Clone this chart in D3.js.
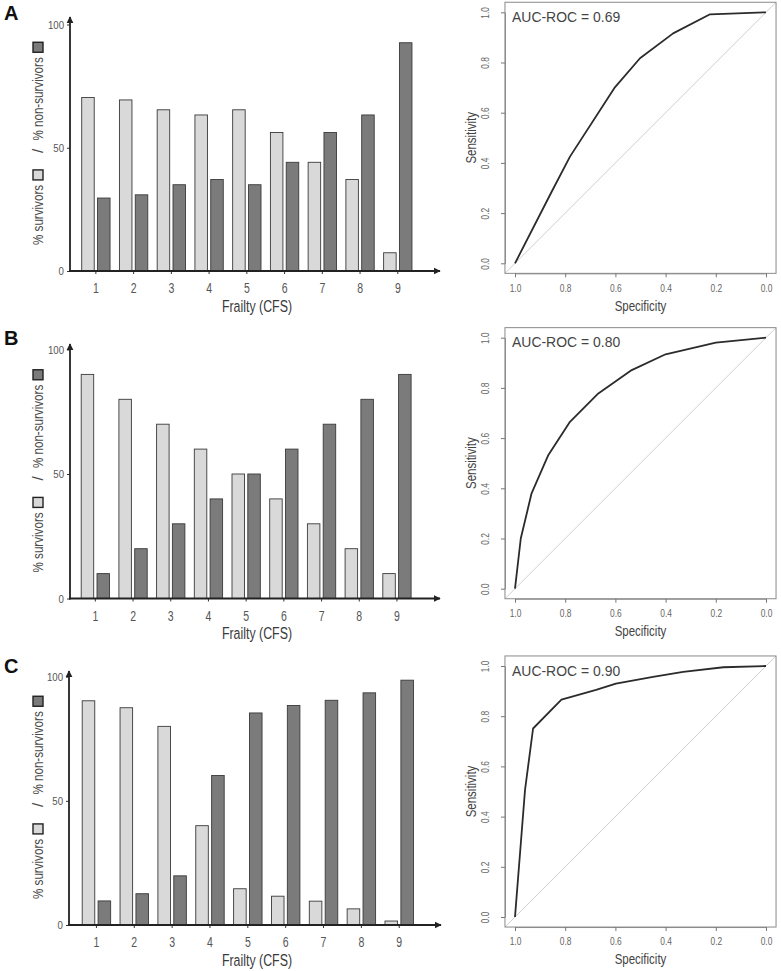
<!DOCTYPE html>
<html><head><meta charset="utf-8">
<script src="https://cdn.jsdelivr.net/npm/d3@7"></script>
<style>body{margin:0;background:#fff} svg{display:block}</style>
</head><body><svg id="chart" width="781" height="971"></svg>
<script>
// ---------- data ----------
const categories = [1, 2, 3, 4, 5, 6, 7, 8, 9];
const survivorsA    = [70.4, 69.4, 65.4, 63.3, 65.4, 56.2, 44.1, 37.1, 7.4];
const nonSurvivorsA = [29.6, 30.9, 35.0, 37.1, 35.0, 44.1, 56.2, 63.3, 92.6];
const survivorsB    = [90, 80, 70, 60, 50, 40, 30, 20, 10];
const nonSurvivorsB = [10, 20, 30, 40, 50, 60, 70, 80, 90];
const survivorsC    = [90.3, 87.5, 80.0, 40.0, 14.6, 11.6, 9.6, 6.5, 1.6];
const nonSurvivorsC = [9.7, 12.6, 19.8, 60.2, 85.4, 88.4, 90.5, 93.5, 98.6];

const rocSpecA = [1.0, 0.854, 0.781, 0.602, 0.502, 0.370, 0.223, 0.0];
const rocSensA = [0.0, 0.285, 0.425, 0.701, 0.817, 0.916, 0.992, 1.0];
const rocSpecB = [1.0, 0.977, 0.934, 0.867, 0.781, 0.668, 0.535, 0.400, 0.200, 0.0];
const rocSensB = [0.0, 0.200, 0.380, 0.533, 0.665, 0.778, 0.871, 0.934, 0.980, 1.0];
const rocSpecC = [1.0, 0.960, 0.928, 0.815, 0.677, 0.598, 0.450, 0.330, 0.170, 0.0];
const rocSensC = [0.0, 0.507, 0.751, 0.866, 0.905, 0.930, 0.957, 0.977, 0.995, 1.0];

const aucLabels = ["AUC-ROC = 0.69", "AUC-ROC = 0.80", "AUC-ROC = 0.90"];
const panelLetters = ["A", "B", "C"];
const barYTicks = [0, 50, 100];
const rocTicks = [0, 0.2, 0.4, 0.6, 0.8, 1.0];
const seriesKeys = ["survivors", "nonSurvivors"];

// ---------- style ----------
const SANS = "'Liberation Sans',Arial,sans-serif";
const LIGHT = "#d9d9d9", DARK = "#7b7b7b", EDGE = "#3a3a3a";
const TXT = "#4a4a4a";

// condense text horizontally (the original figure's text is tall and narrow)
function narrow(sel, f) {
  sel.each(function () {
    const L = this.getComputedTextLength();
    d3.select(this).attr("textLength", L * f).attr("lengthAdjust", "spacingAndGlyphs");
  });
  return sel;
}

const svg = d3.select("#chart");
svg.append("defs").call(defs => {
  defs.append("marker").attr("id", "arrow").attr("viewBox", "0 0 10 10")
    .attr("refX", 9).attr("refY", 5).attr("markerWidth", 4).attr("markerHeight", 4)
    .attr("orient", "auto").attr("markerUnits", "strokeWidth")
    .append("path").attr("d", "M0,0 L10,5 L0,10 Z").attr("fill", "#222");
});

// ---------- bar panel ----------
function drawBars(p) {
  const g = svg.append("g");
  const x = d3.scaleBand().domain(categories).range([p.xStart, p.xStart + 9 * p.step]);
  const xs = d3.scaleBand().domain(seriesKeys).range([4.7, p.step - 4.7]).paddingInner(0.209);
  const y = d3.scaleLinear().domain([0, 100]).range([p.y0, p.y100]);
  const rows = categories.map((c, i) => ({ c, survivors: p.surv[i], nonSurvivors: p.non[i] }));

  g.selectAll("g.cat").data(rows).join("g").attr("class", "cat")
    .attr("transform", d => `translate(${x(d.c)},0)`)
    .selectAll("rect").data(d => seriesKeys.map(k => ({ k, v: d[k] }))).join("rect")
    .attr("x", d => xs(d.k)).attr("width", xs.bandwidth())
    .attr("y", d => y(d.v)).attr("height", d => y(0) - y(d.v))
    .attr("fill", d => d.k === "survivors" ? LIGHT : DARK)
    .attr("stroke", EDGE).attr("stroke-width", 0.9);

  // y axis
  const ya = g.append("g").attr("transform", `translate(${p.axisX},0)`)
    .call(d3.axisLeft(y).tickValues(barYTicks).tickSize(3).tickPadding(3));
  ya.select(".domain").remove();
  ya.selectAll("line").attr("stroke", "#333");
  narrow(ya.selectAll("text").attr("font-family", SANS).attr("font-size", 11.5).attr("fill", "#555"), 0.84);
  g.append("line").attr("x1", p.axisX).attr("x2", p.axisX).attr("y1", p.y0 + 1).attr("y2", p.arrowTop)
    .attr("stroke", "#222").attr("stroke-width", 1.8).attr("marker-end", "url(#arrow)");

  // x axis
  const xa = g.append("g").attr("transform", `translate(0,${p.y0})`)
    .call(d3.axisBottom(x).tickSize(3).tickPadding(8.6));
  xa.select(".domain").remove();
  xa.selectAll("line").attr("stroke", "#333");
  narrow(xa.selectAll("text").attr("font-family", SANS).attr("font-size", 15).attr("fill", "#555"), 0.7);
  g.append("line").attr("x1", p.axisX - 1).attr("x2", p.xEnd).attr("y1", p.y0).attr("y2", p.y0)
    .attr("stroke", "#222").attr("stroke-width", 1.8).attr("marker-end", "url(#arrow)");

  narrow(g.append("text").attr("x", 257).attr("y", p.y0 + 35).attr("dy", "0.35em")
    .attr("text-anchor", "middle").attr("font-family", SANS).attr("font-size", 16.3)
    .attr("fill", "#3a3a3a").text("Frailty (CFS)"), 0.76);

  // y label with legend squares
  const lg = g.append("g").attr("transform", `translate(38,${p.y0}) rotate(-90)`);
  let pos = 26;
  const t1 = narrow(lg.append("text").attr("x", pos).attr("dy", "0.35em").attr("font-family", SANS)
    .attr("font-size", 15.5).attr("fill", TXT).text("% survivors"), 0.75);
  pos += +t1.attr("textLength") + 5;
  lg.append("rect").attr("x", pos).attr("y", -5).attr("width", 10).attr("height", 10)
    .attr("fill", LIGHT).attr("stroke", "#222").attr("stroke-width", 1.4);
  pos += 10 + 17;
  const t2 = lg.append("text").attr("x", pos).attr("dy", "0.35em").attr("font-family", SANS)
    .attr("font-size", 15.5).attr("fill", TXT).text("/");
  pos += t2.node().getComputedTextLength() + 8;
  const t3 = narrow(lg.append("text").attr("x", pos).attr("dy", "0.35em").attr("font-family", SANS)
    .attr("font-size", 15.5).attr("fill", TXT).text("% non-survivors"), 0.75);
  pos += +t3.attr("textLength") + 5;
  lg.append("rect").attr("x", pos).attr("y", -5).attr("width", 10).attr("height", 10)
    .attr("fill", DARK).attr("stroke", "#222").attr("stroke-width", 1.4);

  svg.append("text").attr("x", 4).attr("y", p.letterY).attr("font-family", SANS)
    .attr("font-weight", "bold").attr("font-size", 20).attr("fill", "#111").text(p.letter);
}

// ---------- ROC panel ----------
function drawRoc(p) {
  const g = svg.append("g");
  const x = d3.scaleLinear().domain([1, 0]).range([515, 766]);
  const y = d3.scaleLinear().domain([0, 1]).range([p.y0, p.y1]);
  const lo = -0.04, hi = 1.04;
  const clipId = "clip" + p.letter;
  g.append("clipPath").attr("id", clipId).append("rect")
    .attr("x", x(hi)).attr("y", y(hi)).attr("width", x(lo) - x(hi)).attr("height", y(lo) - y(hi));

  g.append("path").datum([[hi, lo], [lo, hi]])
    .attr("d", d3.line().x(d => x(d[0])).y(d => y(d[1])))
    .attr("stroke", "#cfcfcf").attr("stroke-width", 1).attr("fill", "none")
    .attr("clip-path", `url(#${clipId})`);

  const pts = p.spec.map((s, i) => [s, p.sens[i]]);
  g.append("path").datum(pts).attr("d", d3.line().x(d => x(d[0])).y(d => y(d[1])))
    .attr("stroke", "#2b2b2b").attr("stroke-width", 1.8).attr("fill", "none")
    .attr("stroke-linejoin", "round");

  g.append("rect").attr("x", x(hi)).attr("y", y(hi)).attr("width", x(lo) - x(hi))
    .attr("height", y(lo) - y(hi)).attr("fill", "none").attr("stroke", "#8a8a8a").attr("stroke-width", 1);

  const ya = g.append("g").attr("transform", `translate(${x(hi)},0)`)
    .call(d3.axisLeft(y).tickValues(rocTicks).tickSize(4).tickSizeOuter(0).tickFormat(d3.format(".1f")));
  ya.select(".domain").attr("stroke", "#8a8a8a");
  ya.selectAll("line").attr("stroke", "#777");
  narrow(ya.selectAll("text").attr("x", null).attr("dy", "0.35em")
    .attr("transform", "translate(-20,0) rotate(-90)").attr("text-anchor", "middle")
    .attr("font-family", SANS).attr("font-size", 10.5).attr("fill", "#666"), 0.8);

  const xa = g.append("g").attr("transform", `translate(0,${y(lo)})`)
    .call(d3.axisBottom(x).tickValues(rocTicks).tickSize(4).tickSizeOuter(0).tickPadding(7).tickFormat(d3.format(".1f")));
  xa.select(".domain").attr("stroke", "#8a8a8a");
  xa.selectAll("line").attr("stroke", "#777");
  narrow(xa.selectAll("text").attr("font-family", SANS).attr("font-size", 10.5).attr("fill", "#666"), 0.8);

  narrow(g.append("text").attr("x", 640.5).attr("y", p.y0 + 42).attr("dy", "0.35em").attr("text-anchor", "middle")
    .attr("font-family", SANS).attr("font-size", 15.5).attr("fill", "#444").text("Specificity"), 0.74);
  narrow(g.append("text").attr("transform", `translate(471,${(p.y0 + p.y1) / 2}) rotate(-90)`)
    .attr("dy", "0.35em").attr("text-anchor", "middle")
    .attr("font-family", SANS).attr("font-size", 15.5).attr("fill", "#444").text("Sensitivity"), 0.74);

  narrow(g.append("text").attr("x", 512).attr("y", p.y1 + 4.5).attr("dy", "0.35em")
    .attr("font-family", SANS).attr("font-size", 15).attr("fill", "#444").text(p.auc), 0.93);
}

const barPanels = [
  { letter: "A", letterY: 20, surv: survivorsA, non: nonSurvivorsA, axisX: 70, y0: 271, y100: 24.5, arrowTop: 17, xEnd: 440, xStart: 77, step: 37.74 },
  { letter: "B", letterY: 345, surv: survivorsB, non: nonSurvivorsB, axisX: 70, y0: 598.5, y100: 349.5, arrowTop: 344, xEnd: 440, xStart: 76.5, step: 37.7 },
  { letter: "C", letterY: 672.5, surv: survivorsC, non: nonSurvivorsC, axisX: 69, y0: 925, y100: 676.7, arrowTop: 671, xEnd: 441, xStart: 77.5, step: 37.85 }
];
barPanels.forEach(drawBars);

const rocPanels = [
  { letter: "A", spec: rocSpecA, sens: rocSensA, y0: 263.3, y1: 12.3, auc: aucLabels[0] },
  { letter: "B", spec: rocSpecB, sens: rocSensB, y0: 588.7, y1: 337.7, auc: aucLabels[1] },
  { letter: "C", spec: rocSpecC, sens: rocSensC, y0: 917, y1: 666, auc: aucLabels[2] }
];
rocPanels.forEach(drawRoc);
</script></body></html>
